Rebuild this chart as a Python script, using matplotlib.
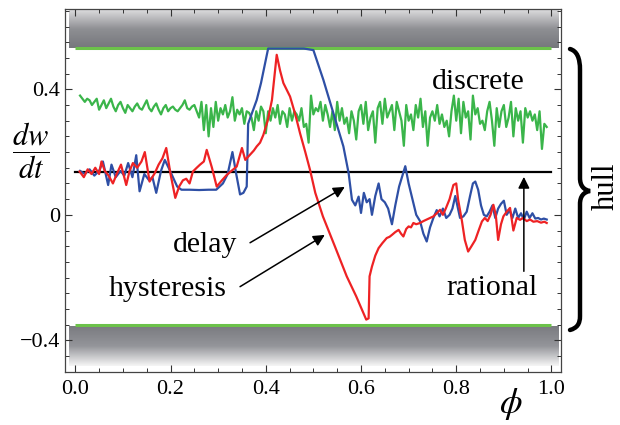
import numpy as np
import matplotlib
matplotlib.use("Agg")
import matplotlib.pyplot as plt
from matplotlib.colors import LinearSegmentedColormap
from matplotlib.path import Path
from matplotlib.patches import PathPatch
from matplotlib.ticker import MultipleLocator, FixedLocator, FixedFormatter

plt.rcParams['font.family'] = ['Liberation Serif', 'DejaVu Serif']
plt.rcParams['mathtext.fontset'] = 'stix'

# ---------------- data ----------------
hull_top = 0.532
hull_bottom = -0.352
rational_level = 0.137

green_y = [
    0.38, 0.37, 0.36, 0.37, 0.365, 0.35, 0.36, 0.37, 0.335, 0.35, 0.365, 0.34, 0.355, 0.37, 0.345, 0.33, 0.35, 0.36, 0.34,
    0.325, 0.35, 0.34, 0.33, 0.345, 0.355, 0.34, 0.335, 0.35, 0.365, 0.34, 0.33, 0.345, 0.355, 0.335, 0.32, 0.34, 0.35, 0.33, 0.34,
    0.345, 0.335, 0.33, 0.34, 0.35, 0.365, 0.34, 0.335, 0.345, 0.35, 0.33, 0.31, 0.36, 0.27, 0.35, 0.25, 0.34, 0.28, 0.36, 0.30,
    0.34, 0.32, 0.35, 0.31, 0.33, 0.375, 0.30, 0.335, 0.32, 0.34, 0.29, 0.33, 0.325, 0.31, 0.27, 0.33, 0.30, 0.345, 0.33, 0.26,
    0.33, 0.30, 0.34, 0.31, 0.35, 0.29, 0.33, 0.32, 0.28, 0.34, 0.30, 0.33, 0.32, 0.30, 0.34, 0.28, 0.29, 0.23, 0.38, 0.32,
    0.34, 0.33, 0.36, 0.30, 0.35, 0.32, 0.28, 0.33, 0.27, 0.36, 0.30, 0.34, 0.29, 0.31, 0.26, 0.33, 0.30, 0.24, 0.33, 0.35,
    0.29, 0.36, 0.27, 0.31, 0.33, 0.23, 0.34, 0.36, 0.29, 0.37, 0.31, 0.33, 0.35, 0.27, 0.36, 0.33, 0.30, 0.22, 0.35, 0.30,
    0.32, 0.27, 0.35, 0.31, 0.37, 0.28, 0.33, 0.22, 0.31, 0.33, 0.30, 0.35, 0.29, 0.32, 0.28, 0.30, 0.25, 0.33, 0.38, 0.30,
    0.37, 0.26, 0.36, 0.31, 0.33, 0.24, 0.38, 0.32, 0.34, 0.29, 0.30, 0.27, 0.33, 0.36, 0.30, 0.22, 0.34, 0.28, 0.33, 0.35,
    0.28, 0.31, 0.36, 0.25, 0.34, 0.30, 0.33, 0.23, 0.34, 0.31, 0.33, 0.30, 0.32, 0.27, 0.33, 0.21, 0.29, 0.28,
]
green_x = np.linspace(0.01, 0.99, len(green_y))

blue_x = [0.01, 0.02, 0.03, 0.04, 0.05, 0.058, 0.069, 0.076, 0.085, 0.095, 0.103, 0.111, 0.12, 0.128, 0.135,
          0.145, 0.155, 0.162, 0.17, 0.18, 0.188, 0.196, 0.205, 0.214, 0.223, 0.24, 0.26, 0.28, 0.296, 0.31,
          0.32, 0.33, 0.338, 0.346, 0.353, 0.36, 0.363, 0.37, 0.381, 0.39, 0.405, 0.42, 0.45, 0.48, 0.5,
          0.521, 0.542, 0.563, 0.574, 0.581, 0.588, 0.595, 0.6, 0.606, 0.612, 0.618, 0.623, 0.63, 0.637,
          0.643, 0.65, 0.657, 0.665, 0.672, 0.68, 0.686, 0.693, 0.70, 0.708, 0.716, 0.724, 0.731, 0.738,
          0.745, 0.752, 0.759, 0.765, 0.772, 0.779, 0.786, 0.792, 0.798, 0.808, 0.815, 0.822, 0.829, 0.835,
          0.84, 0.846, 0.852, 0.858, 0.864, 0.87, 0.876, 0.882, 0.888, 0.894, 0.9, 0.906, 0.912, 0.918,
          0.924, 0.93, 0.936, 0.942, 0.948, 0.954, 0.96, 0.966, 0.972, 0.978, 0.984, 0.99]
blue_y = [0.14, 0.13, 0.145, 0.125, 0.14, 0.17, 0.095, 0.16, 0.12, 0.14, 0.125, 0.165, 0.12, 0.19, 0.075,
          0.13, 0.11, 0.12, 0.07, 0.14, 0.175, 0.15, 0.12, 0.09, 0.08, 0.08, 0.079, 0.08, 0.08, 0.10,
          0.13, 0.20, 0.13, 0.065, 0.07, 0.09, 0.29, 0.32, 0.366, 0.42, 0.53, 0.53, 0.53, 0.53, 0.525,
          0.43, 0.324, 0.218, 0.133, 0.048, 0.03, 0.058, 0.006, 0.07, 0.04, 0.05, 0.0, 0.06, 0.10,
          0.05, 0.04, 0.02, -0.03, 0.03, 0.09, 0.12, 0.155, 0.10, 0.05, 0.0, -0.02, -0.06, -0.085,
          -0.04, -0.01, 0.015, -0.005, 0.02, -0.01, 0.0, 0.02, 0.06, -0.01, -0.005, 0.01, 0.06, 0.10,
          0.106, 0.08, 0.03, 0.0, -0.005, 0.01, 0.03, -0.01, 0.02, 0.035, 0.045, 0.0, 0.015, -0.01,
          0.02, -0.01, 0.005, -0.015, 0.01, -0.01, 0.005, -0.012, -0.01, -0.015, -0.012, -0.015]

red_x = [0.009, 0.018, 0.026, 0.034, 0.042, 0.05, 0.055, 0.062, 0.07, 0.079, 0.087, 0.096, 0.107, 0.114,
         0.121, 0.13, 0.139, 0.146, 0.156, 0.167, 0.175, 0.183, 0.191, 0.2, 0.21, 0.218, 0.226, 0.233,
         0.24, 0.247, 0.255, 0.262, 0.27, 0.276, 0.287, 0.297, 0.308, 0.318, 0.328, 0.339, 0.35, 0.357,
         0.366, 0.375, 0.381, 0.388, 0.395, 0.404, 0.413, 0.423, 0.43, 0.437, 0.451, 0.462, 0.472, 0.483,
         0.493, 0.504, 0.52, 0.545, 0.57, 0.59, 0.611, 0.616, 0.618, 0.623, 0.63, 0.637, 0.645, 0.654,
         0.66, 0.665, 0.672, 0.679, 0.684, 0.689, 0.695, 0.70, 0.705, 0.71, 0.716, 0.724, 0.731, 0.738,
         0.745, 0.752, 0.759, 0.766, 0.772, 0.778, 0.786, 0.794, 0.80, 0.804, 0.812, 0.818, 0.825, 0.832,
         0.84, 0.847, 0.854, 0.86, 0.866, 0.872, 0.878, 0.883, 0.888, 0.894, 0.899, 0.906, 0.913, 0.92,
         0.927, 0.934, 0.94, 0.948, 0.955, 0.962, 0.97, 0.978, 0.985, 0.99]
red_y = [0.138, 0.12, 0.145, 0.13, 0.15, 0.13, 0.17, 0.14, 0.125, 0.10, 0.13, 0.16, 0.095, 0.14,
         0.165, 0.15, 0.17, 0.20, 0.106, 0.133, 0.16, 0.18, 0.213, 0.13, 0.054, 0.09, 0.11, 0.115,
         0.10, 0.138, 0.15, 0.16, 0.17, 0.207, 0.15, 0.09, 0.11, 0.127, 0.14, 0.154, 0.213, 0.175,
         0.19, 0.205, 0.218, 0.23, 0.255, 0.30, 0.366, 0.51, 0.46, 0.42, 0.377, 0.32, 0.26, 0.20,
         0.143, 0.07, -0.005, -0.10, -0.196, -0.26, -0.334, -0.33, -0.196, -0.165, -0.13, -0.106, -0.09, -0.074,
         -0.07, -0.064, -0.055, -0.048, -0.06, -0.069, -0.045, -0.037, -0.04, -0.026, -0.03, -0.026, -0.02, -0.015,
         -0.01, -0.005, 0.005, 0.016, 0.0, 0.02, 0.05, 0.095, 0.10, 0.048, -0.02, -0.08, -0.117, -0.10,
         -0.08, -0.05, -0.021, -0.01, -0.02, 0.0, 0.032, 0.0, -0.08, -0.03, -0.005, 0.01, 0.022, -0.05,
         -0.01, -0.016, -0.01, -0.02, -0.015, -0.022, -0.02, -0.025, -0.022, -0.026]

x_ticks = [0.0, 0.2, 0.4, 0.6, 0.8, 1.0]
x_tick_labels = ['0.0', '0.2', '0.4', '0.6', '0.8', '1.0']
y_ticks = [-0.4, 0.0, 0.4]
y_tick_labels = ['\u22120.4', '0', '0.4']

# ---------------- figure ----------------
W, H = 620, 425
fig = plt.figure(figsize=(W / 100, H / 100), dpi=100)
ax = fig.add_axes([65 / W, 1 - 371.7 / H, (561 - 65) / W, (371.7 - 9) / H])
ax.set_xlim(-0.0216, 1.02)
ax.set_ylim(-0.5, 0.656)

# gray gradient bands
top_cmap = LinearSegmentedColormap.from_list('t', ['#76777c', '#8e8f93', '#dadadc'])
bot_cmap = LinearSegmentedColormap.from_list('b', ['#7a7b80', '#94959a', '#f6f6f6'])
grad = np.linspace(0, 1, 256).reshape(-1, 1)
ax.imshow(grad, cmap=top_cmap, aspect='auto', origin='lower',
          extent=(-0.013, 1.016, hull_top, 0.652), zorder=1, interpolation='bilinear')
ax.imshow(grad, cmap=bot_cmap, aspect='auto', origin='upper',
          extent=(-0.013, 1.016, -0.483, hull_bottom - 0.004), zorder=1, interpolation='bilinear')

# hull lines
ax.plot([0, 1.0], [hull_top, hull_top], color='#6cc24a', lw=2.2, zorder=3, solid_capstyle='butt')
ax.plot([0, 1.0], [hull_bottom, hull_bottom], color='#6cc24a', lw=2.2, zorder=3, solid_capstyle='butt')

# series
ax.plot(green_x, green_y, color='#3ab54a', lw=1.6, zorder=4)
ax.plot([0, 1.0], [rational_level, rational_level], color='black', lw=1.6, zorder=4)
ax.plot(blue_x, blue_y, color='#2e4fa5', lw=1.6, zorder=5)
ax.plot(red_x, red_y, color='#ee2224', lw=1.6, zorder=6)

# ticks
ax.xaxis.set_major_locator(FixedLocator(x_ticks))
ax.xaxis.set_major_formatter(FixedFormatter(x_tick_labels))
ax.yaxis.set_major_locator(FixedLocator(y_ticks))
ax.yaxis.set_major_formatter(FixedFormatter(y_tick_labels))
ax.xaxis.set_minor_locator(MultipleLocator(0.05))
ax.yaxis.set_minor_locator(MultipleLocator(0.05))
ax.tick_params(which='both', direction='in', top=True, right=True, colors='#333333',
               labelcolor='black', labelsize=16)
ax.tick_params(which='major', length=5, width=0.8)
ax.tick_params(which='minor', length=2.6, width=0.7)
ax.tick_params(axis='x', pad=6)
ax.tick_params(axis='y', pad=3.5)
for s in ax.spines.values():
    s.set_color('#444444')
    s.set_linewidth(0.9)

# annotations
fs = 21.5
arrow_kw = dict(arrowstyle='-|>', color='black', lw=1.1, mutation_scale=17, shrinkA=0, shrinkB=0)
ax.text(0.847, 0.40, 'discrete', fontsize=fs, ha='center', va='baseline', zorder=8)
ax.text(0.272, -0.117, 'delay', fontsize=fs, ha='center', va='baseline', zorder=8)
ax.text(0.194, -0.258, 'hysteresis', fontsize=fs, ha='center', va='baseline', zorder=8)
ax.text(0.876, -0.257, 'rational', fontsize=fs, ha='center', va='baseline', zorder=8)
ax.annotate('', xy=(0.566, 0.089), xytext=(0.367, -0.089), arrowprops=arrow_kw, zorder=8)
ax.annotate('', xy=(0.524, -0.064), xytext=(0.346, -0.229), arrowprops=arrow_kw, zorder=8)
ax.annotate('', xy=(0.942, 0.121), xytext=(0.942, -0.18), arrowprops=arrow_kw, zorder=8)

# overlay in pixel coordinates for the brace and outer labels
ov = fig.add_axes([0, 0, 1, 1], facecolor='none')
ov.set_xlim(0, W)
ov.set_ylim(H, 0)
ov.axis('off')

verts = [(570, 49), (577, 51), (580, 58), (580, 70),
         (580, 178),
         (580, 186), (584, 190), (590, 191),
         (584, 192), (580, 196), (580, 204),
         (580, 316),
         (580, 324), (577, 328), (570, 330)]
codes = [Path.MOVETO, Path.CURVE4, Path.CURVE4, Path.CURVE4,
         Path.LINETO,
         Path.CURVE4, Path.CURVE4, Path.CURVE4,
         Path.CURVE4, Path.CURVE4, Path.CURVE4,
         Path.LINETO,
         Path.CURVE4, Path.CURVE4, Path.CURVE4]
ov.add_patch(PathPatch(Path(verts, codes), fill=False, lw=3.2, color='black', capstyle='round'))
ov.text(606, 186, 'hull', fontsize=22, rotation=90, ha='center', va='center')
ov.text(31, 151, r'$\dfrac{dw}{dt}$', fontsize=22, ha='center', va='center')
ov.text(511, 404, r'$\phi$', fontsize=26, ha='center', va='center')

fig.savefig('out.png', dpi=100)
